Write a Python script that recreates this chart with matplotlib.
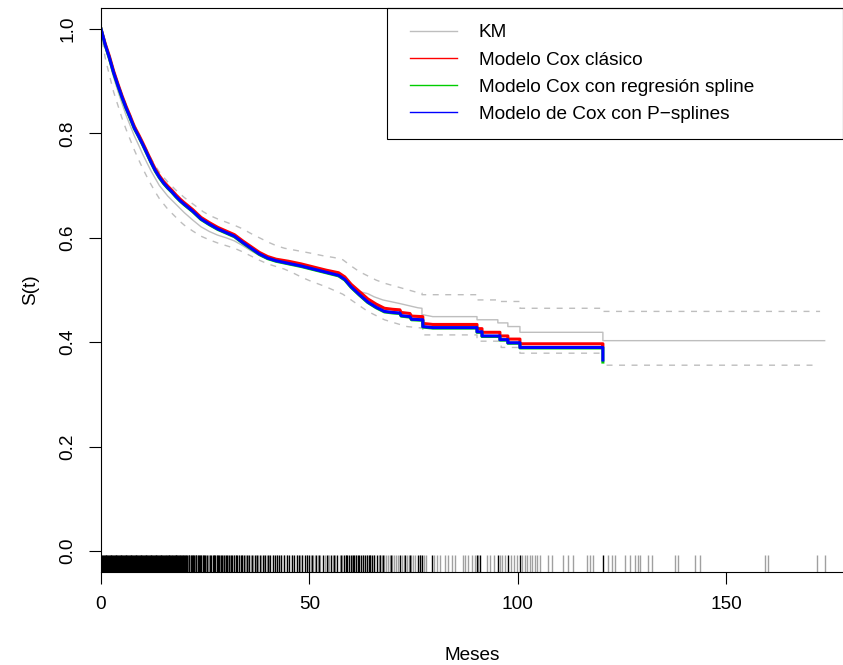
import matplotlib
matplotlib.use("Agg")
import matplotlib.pyplot as plt
from matplotlib.lines import Line2D
from matplotlib.patches import Rectangle

plt.rcParams["font.family"] = ["Liberation Sans", "DejaVu Sans"]
plt.rcParams["lines.scale_dashes"] = False

# Kaplan-Meier estimate and 95% bands (months, survival)
km_t = [0, 1, 2, 3, 4, 5, 6, 7, 8, 9, 10, 12, 14, 16, 18, 20, 22, 24, 26, 28, 30,
        32, 34, 36, 38, 40, 42, 45, 48, 51, 54, 57, 58.5, 60, 62, 64, 65.5, 67.6,
        71.7, 76, 77, 77, 79.6, 90.2, 90.2, 95.2, 95.2, 97.6, 97.6, 100.5, 100.5,
        120.4, 120.4, 173.6]
km_s = [1.0, 0.965, 0.938, 0.908, 0.882, 0.858, 0.835, 0.815, 0.795, 0.778, 0.760,
        0.728, 0.700, 0.680, 0.664, 0.648, 0.634, 0.621, 0.612, 0.605, 0.600, 0.594,
        0.585, 0.575, 0.566, 0.559, 0.555, 0.549, 0.545, 0.539, 0.534, 0.528, 0.522,
        0.510, 0.497, 0.493, 0.487, 0.481, 0.474, 0.466, 0.465, 0.453, 0.449, 0.449,
        0.443, 0.443, 0.437, 0.437, 0.430, 0.430, 0.419, 0.419, 0.403, 0.403]

up_t = [0, 1, 2, 3, 4, 5, 6, 7, 8, 9, 10, 11, 12, 13, 14, 15, 16, 17, 18, 19, 20,
        21.5, 23, 24.5, 26, 28, 30, 32, 34, 36, 38, 40, 42, 44, 46, 48, 50, 53, 56,
        58, 60, 62, 64, 66, 68, 72, 76, 77, 77, 90.2, 90.2, 95.7, 95.7, 100.5, 100.5,
        120.4, 120.4, 172.5]
up_s = [1.0, 0.972, 0.948, 0.923, 0.898, 0.876, 0.855, 0.836, 0.817, 0.800, 0.784,
        0.768, 0.752, 0.738, 0.726, 0.716, 0.707, 0.699, 0.691, 0.684, 0.677, 0.668,
        0.659, 0.650, 0.643, 0.636, 0.630, 0.624, 0.617, 0.608, 0.600, 0.592, 0.585,
        0.580, 0.577, 0.574, 0.571, 0.566, 0.562, 0.558, 0.546, 0.535, 0.527, 0.519,
        0.513, 0.504, 0.495, 0.494, 0.491, 0.491, 0.481, 0.481, 0.478, 0.478, 0.465,
        0.465, 0.459, 0.459]

lo_t = [0, 0.5, 1, 1.5, 2, 3, 4, 5, 6, 7, 8, 9, 10, 11, 12, 13, 14, 15, 16, 17, 18,
        19, 20, 22, 24, 26, 28, 30, 32, 34, 36, 38, 40, 42, 44, 46, 48, 50, 52, 54,
        56, 58, 60, 62, 64, 66, 68, 70, 73.4, 77.2, 77.2, 90.2, 90.2, 96, 96, 100.5,
        100.5, 120.4, 120.4, 172]
lo_s = [1.0, 0.968, 0.945, 0.928, 0.912, 0.880, 0.855, 0.830, 0.808, 0.788, 0.768,
        0.750, 0.733, 0.717, 0.702, 0.688, 0.675, 0.665, 0.655, 0.647, 0.639, 0.631,
        0.624, 0.613, 0.603, 0.596, 0.590, 0.585, 0.580, 0.573, 0.565, 0.557, 0.550,
        0.545, 0.540, 0.533, 0.525, 0.518, 0.512, 0.506, 0.499, 0.492, 0.481, 0.470,
        0.459, 0.451, 0.443, 0.438, 0.430, 0.427, 0.414, 0.414, 0.402, 0.402, 0.390,
        0.390, 0.379, 0.379, 0.356, 0.356]

# Cox model curves
cox_t = [0, 1, 2, 3, 4, 5, 6, 7, 8, 9, 10, 11, 12, 13, 14, 15, 16, 17, 18, 19, 20,
         22, 24, 26, 28, 30, 32, 34, 36, 38, 40, 42, 45, 48, 51, 54, 57, 58.5, 60,
         62, 64, 66, 68, 70, 71.7, 72, 74.1, 74.5, 77.2, 77.2, 79.6, 90.2, 90.2,
         91.4, 91.4, 95.7, 95.7, 97.6, 97.6, 100.5, 100.5, 120.4, 120.4]
psp_s = [1.0, 0.970, 0.945, 0.917, 0.893, 0.870, 0.849, 0.830, 0.810, 0.795, 0.779,
         0.762, 0.745, 0.729, 0.716, 0.705, 0.696, 0.688, 0.679, 0.671, 0.664, 0.651,
         0.636, 0.626, 0.617, 0.610, 0.603, 0.591, 0.580, 0.569, 0.561, 0.556, 0.551,
         0.546, 0.540, 0.534, 0.528, 0.520, 0.506, 0.491, 0.477, 0.467, 0.459, 0.457,
         0.456, 0.451, 0.449, 0.444, 0.443, 0.430, 0.428, 0.428, 0.420, 0.420, 0.412,
         0.412, 0.405, 0.405, 0.399, 0.399, 0.390, 0.390, 0.366]
spl_s = [1.0, 0.969, 0.944, 0.916, 0.892, 0.869, 0.848, 0.829, 0.809, 0.794, 0.778,
         0.761, 0.744, 0.728, 0.715, 0.704, 0.695, 0.687, 0.678, 0.670, 0.663, 0.650,
         0.635, 0.625, 0.616, 0.609, 0.602, 0.590, 0.579, 0.568, 0.560, 0.555, 0.550,
         0.545, 0.539, 0.533, 0.527, 0.519, 0.505, 0.490, 0.476, 0.466, 0.458, 0.456,
         0.455, 0.450, 0.448, 0.443, 0.442, 0.429, 0.427, 0.427, 0.419, 0.419, 0.411,
         0.411, 0.404, 0.404, 0.398, 0.398, 0.389, 0.389, 0.362]
cox_s = [1.0, 0.972, 0.948, 0.920, 0.896, 0.873, 0.852, 0.833, 0.813, 0.798, 0.782,
         0.765, 0.748, 0.732, 0.719, 0.708, 0.699, 0.691, 0.682, 0.674, 0.667, 0.654,
         0.639, 0.629, 0.620, 0.613, 0.606, 0.594, 0.583, 0.572, 0.564, 0.559, 0.555,
         0.550, 0.544, 0.538, 0.533, 0.525, 0.511, 0.497, 0.483, 0.473, 0.465, 0.463,
         0.462, 0.457, 0.455, 0.450, 0.449, 0.436, 0.434, 0.434, 0.426, 0.426, 0.419,
         0.419, 0.412, 0.412, 0.406, 0.406, 0.397, 0.397, 0.393]

# observed times: events (black) and censored (grey)
rug_event = [0.1, 0.3, 0.5, 0.7, 0.9, 1.1, 1.3, 1.5, 1.7, 1.9, 2.1, 2.3, 2.5, 2.7,
             2.9, 3.1, 3.3, 3.5, 3.7, 3.9, 4.1, 4.3, 4.5, 4.7, 4.9, 5.1, 5.3, 5.5,
             5.7, 5.9, 6.1, 6.3, 6.5, 6.7, 6.9, 7.1, 7.3, 7.5, 7.7, 7.9, 8.1, 8.3,
             8.5, 8.7, 8.9, 9.1, 9.3, 9.5, 9.7, 9.9, 10.1, 10.3, 10.5, 10.7, 10.9,
             11.1, 11.3, 11.5, 11.7, 11.9, 12.1, 12.3, 12.5, 12.7, 12.9, 13.1, 13.3,
             13.5, 13.7, 13.9, 14.1, 14.3, 14.5, 14.7, 14.9, 15.1, 15.3, 15.5, 15.8,
             16.0, 16.2, 16.4, 16.6, 16.9, 17.1, 17.3, 17.5, 17.7, 17.9, 18.1, 18.3,
             18.5, 18.7, 18.9, 19.2, 19.4, 19.7, 19.9, 20.2, 20.5, 20.7, 21.0, 21.2,
             21.5, 21.8, 22.1, 22.4, 22.7, 22.9, 23.2, 23.5, 23.8, 24.1, 24.4, 24.7,
             25.0, 25.4, 26.2, 26.5, 26.8, 27.1, 27.4, 27.8, 28.1, 28.4, 28.8, 29.1,
             29.5, 29.9, 30.3, 30.7, 31.1, 31.5, 31.9, 32.3, 32.7, 33.1, 33.5, 33.9,
             34.3, 35.0, 35.6, 36.3, 36.9, 37.5, 38.1, 38.8, 39.4, 40.0, 40.6, 41.2,
             41.8, 42.3, 42.7, 43.3, 43.9, 44.6, 45.2, 45.8, 46.4, 47.0, 47.5, 48.2,
             48.9, 49.3, 49.8, 50.7, 51.6, 52.4, 53.2, 54.1, 55.1, 55.9, 56.7, 57.5,
             58.3, 58.7, 59.1, 59.5, 59.9, 60.4, 60.8, 61.2, 61.6, 62.0, 62.4, 62.9,
             63.3, 63.8, 64.2, 64.6, 65.0, 65.6, 66.2, 66.9, 67.6, 69.5, 71.7, 73.0,
             74.2, 76.0, 76.6, 77.0, 79.4, 90.2, 91.0, 95.2, 97.6, 100.5, 120.4]
rug_cens = [15.6, 17.0, 18.1, 19.0, 19.6, 20.3, 20.9, 21.6, 22.0, 22.6, 23.3, 24.0,
            24.5, 25.2, 25.6, 26.0, 27.1, 27.9, 28.6, 29.2, 29.8, 30.4, 31.0, 31.8,
            32.5, 33.1, 33.9, 34.5, 34.8, 35.2, 35.9, 36.4, 37.2, 37.6, 38.5, 39.0,
            39.8, 40.3, 41.2, 42.2, 43.3, 44.0, 44.5, 45.8, 46.9, 47.8, 48.2, 49.4,
            50.3, 50.9, 51.3, 52.1, 52.6, 53.7, 54.4, 54.7, 55.6, 56.2, 57.3, 57.9,
            58.7, 60.3, 61.2, 62.8, 63.7, 64.6, 65.5, 66.6, 67.0, 67.3, 68.0, 68.4,
            68.9, 69.3, 69.8, 70.3, 70.8, 71.2, 72.1, 72.7, 73.3, 73.9, 74.4, 74.9,
            75.4, 76.5, 77.5, 78.0, 79.8, 80.5, 81.3, 82.5, 83.2, 84.1, 84.9, 86.8,
            87.4, 88.1, 88.9, 89.6, 90.4, 92.5, 93.4, 94.2, 95.7, 96.3, 96.9, 98.3,
            99.1, 99.8, 101.0, 101.6, 102.2, 102.8, 103.4, 104.0, 104.6, 105.2,
            107.2, 108.2, 110.8, 112.0, 113.2, 116.5, 117.3, 118.0, 121.6, 122.5,
            123.3, 125.7, 126.9, 128.1, 128.8, 129.3, 131.2, 132.1, 137.6, 138.4,
            142.4, 143.6, 159.2, 159.9, 171.7, 173.6]

labels = ["KM", "Modelo Cox clásico", "Modelo Cox con regresión spline",
          "Modelo de Cox con P\u2212splines"]
colors = ["#BEBEBE", "#FF0000", "#00CD00", "#0000FF"]

fig = plt.figure(figsize=(8.43, 6.65), dpi=100)
ax = fig.add_axes([101 / 843, 93 / 665, 742 / 843, 564 / 665])

ax.plot(km_t, km_s, color=colors[0], lw=1.0)
ax.plot(up_t, up_s, color="#BEBEBE", lw=1.0, dashes=(4.3, 4.7))
ax.plot(lo_t, lo_s, color="#BEBEBE", lw=1.0, dashes=(4.3, 4.7))
ax.plot(cox_t, cox_s, color=colors[1], lw=2.2)
ax.plot(cox_t, spl_s, color=colors[2], lw=2.2)
ax.plot(cox_t, psp_s, color=colors[3], lw=2.2)

xtr = ax.get_xaxis_transform()
ax.vlines(rug_cens, 0, 0.03, transform=xtr, color="#A0A0A0", lw=1.0)
ax.vlines(rug_event, 0, 0.03, transform=xtr, color="black", lw=1.0)

ax.set_xlim(0, 178)
ax.set_ylim(-0.04, 1.04)
ax.set_xticks([0, 50, 100, 150])
ax.set_yticks([0.0, 0.2, 0.4, 0.6, 0.8, 1.0])
ax.set_yticklabels(["0.0", "0.2", "0.4", "0.6", "0.8", "1.0"], rotation=90, va="center")
ax.tick_params(direction="out", length=8.5, width=0.8, labelsize=13.7, pad=9)
ax.spines["right"].set_visible(False)
for s in ["left", "top", "bottom"]:
    ax.spines[s].set_linewidth(0.8)

ax.set_xlabel("Meses", fontsize=13.7, labelpad=24)
ax.set_ylabel("S(t)", fontsize=13.7, labelpad=15)

# legend box like R's legend("topright")
ax.add_patch(Rectangle((286 / 742, 1 - 131 / 564), 456 / 742, 131 / 564,
                       transform=ax.transAxes, fill=False, edgecolor="black",
                       lw=0.8, clip_on=False, zorder=5))
handles = [Line2D([], [], color=c, lw=1.0) for c in colors]
ax.legend(handles, labels, loc="upper left", bbox_to_anchor=(309 / 742, 1 - 16 / 564),
          frameon=False, fontsize=13.7, borderpad=0, borderaxespad=0,
          handlelength=2.46, handletextpad=1.15, labelspacing=0.52)

fig.savefig("out.png", dpi=100)
